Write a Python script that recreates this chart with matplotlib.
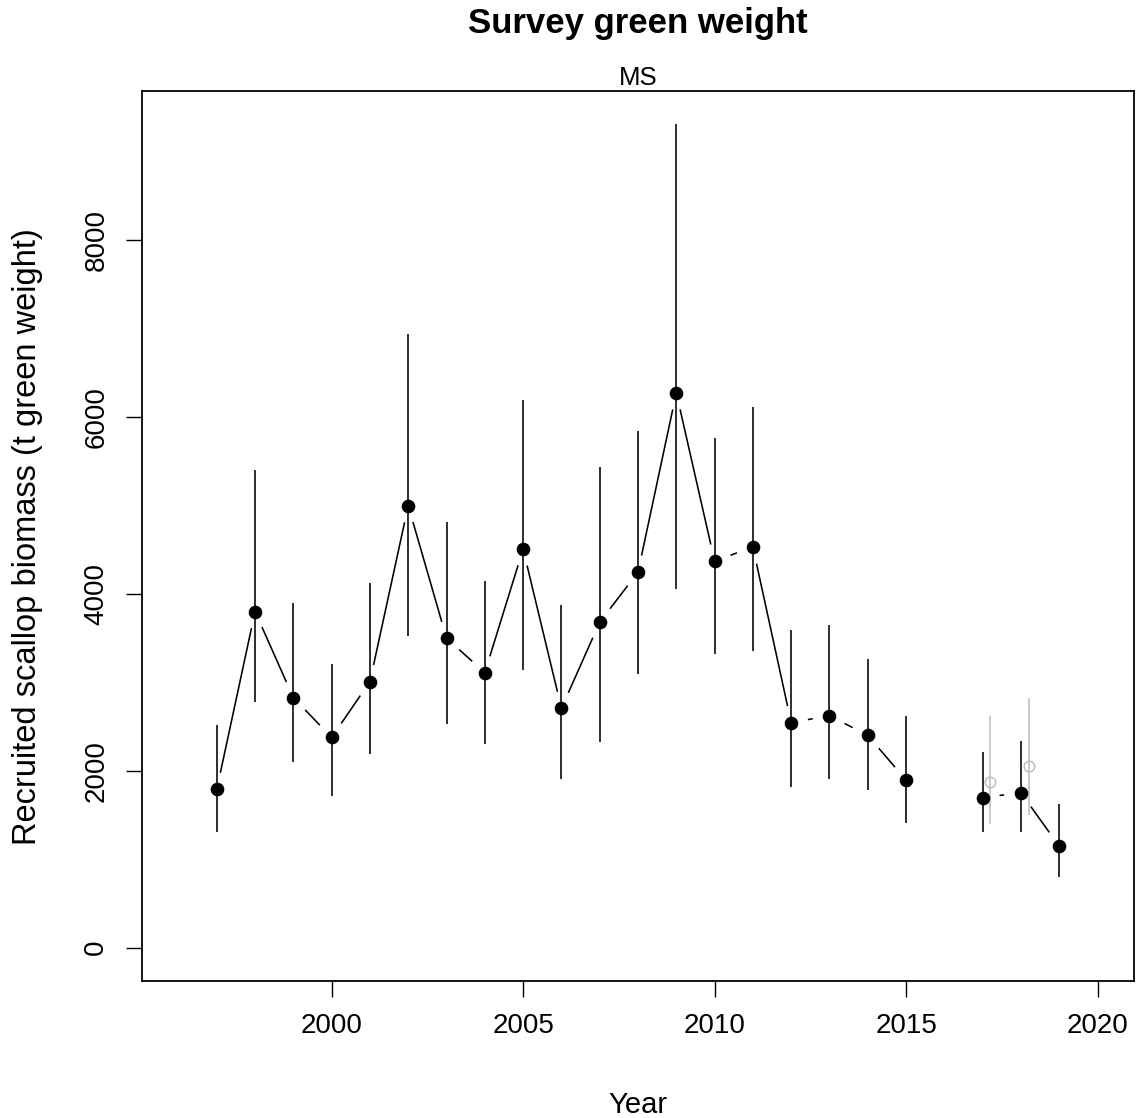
import matplotlib
matplotlib.use("Agg")
import matplotlib.pyplot as plt
import numpy as np

plt.rcParams['font.family'] = ['Liberation Sans', 'DejaVu Sans']

# survey estimates (t green weight), 2016 not surveyed
years = [1997, 1998, 1999, 2000, 2001, 2002, 2003, 2004, 2005, 2006, 2007,
         2008, 2009, 2010, 2011, 2012, 2013, 2014, 2015, 2017, 2018, 2019]
biomass = [1789, 3800, 2827, 2377, 3008, 4997, 3498, 3110, 4506, 2706, 3679,
           4245, 6272, 4370, 4529, 2544, 2623, 2400, 1895, 1698, 1751, 1148]
lower = [1310, 2774, 2102, 1717, 2185, 3521, 2532, 2306, 3136, 1902, 2329,
         3099, 4050, 3322, 3359, 1819, 1902, 1782, 1412, 1310, 1310, 804]
upper = [2518, 5405, 3899, 3208, 4121, 6936, 4808, 4140, 6186, 3876, 5434,
         5842, 9314, 5763, 6107, 3593, 3653, 3268, 2620, 2216, 2340, 1627]

# alternative estimates (grey)
alt_years = [2017, 2018]
alt_biomass = [1868, 2049]
alt_lower = [1397, 1502]
alt_upper = [2623, 2823]

W, H = 1138, 1118
fig = plt.figure(figsize=(W / 100, H / 100), dpi=100)
ax = fig.add_axes([141.7 / W, 1 - 980.7 / H, (1134.3 - 141.7) / W, (980.7 - 90.7) / H])

ymax = max(upper)
ax.set_xlim(1996 - 0.04 * 24, 2020 + 0.04 * 24)
ax.set_ylim(-0.04 * ymax, ymax * 1.04)

yr = np.array(years, dtype=float)
bm = np.array(biomass, dtype=float)

# CI bars
ax.vlines(yr, lower, upper, colors='black', lw=1.15)
ax.vlines(np.array(alt_years) + 0.2, alt_lower, alt_upper, colors='#BEBEBE', lw=1.15)

# lines with gaps around points (R type="b")
gap = 17.0
pts = ax.transData.transform(np.column_stack([yr, bm]))
inv = ax.transData.inverted()
for i in range(len(yr) - 1):
    if yr[i + 1] - yr[i] > 1:
        continue
    p0, p1 = pts[i], pts[i + 1]
    d = p1 - p0
    L = np.hypot(*d)
    if L <= 2 * gap:
        continue
    u = d / L
    a = inv.transform(p0 + gap * u)
    b = inv.transform(p1 - gap * u)
    ax.plot([a[0], b[0]], [a[1], b[1]], color='black', lw=1.15, solid_capstyle='butt')

ax.plot(yr, bm, 'o', color='black', ms=8.8, ls='none')
ax.plot(np.array(alt_years) + 0.2, alt_biomass, 'o', mfc='none', mec='#BEBEBE',
        mew=1.1, ms=7.6, ls='none')

ax.set_xticks([2000, 2005, 2010, 2015, 2020])
ax.set_yticks([0, 2000, 4000, 6000, 8000])
ax.tick_params(length=11.3, width=1.0, pad=12, labelsize=20)
for lab in ax.get_yticklabels():
    lab.set_rotation(90)
    lab.set_va('center')
for s in ax.spines.values():
    s.set_linewidth(1.3)

fig.text(638 / W, 1 - 33.3 / H, 'Survey green weight', ha='center', va='baseline',
         fontsize=25, fontweight='bold')
fig.text(638 / W, 1 - 85 / H, 'MS', ha='center', va='baseline', fontsize=18.5)
fig.text(638 / W, 1 - 1113 / H, 'Year', ha='center', va='baseline', fontsize=21)
fig.text(27.5 / W, 1 - 536.5 / H, 'Recruited scallop biomass (t green weight)',
         ha='center', va='center', rotation=90, fontsize=23.5)

fig.savefig('out.png', dpi=100)
